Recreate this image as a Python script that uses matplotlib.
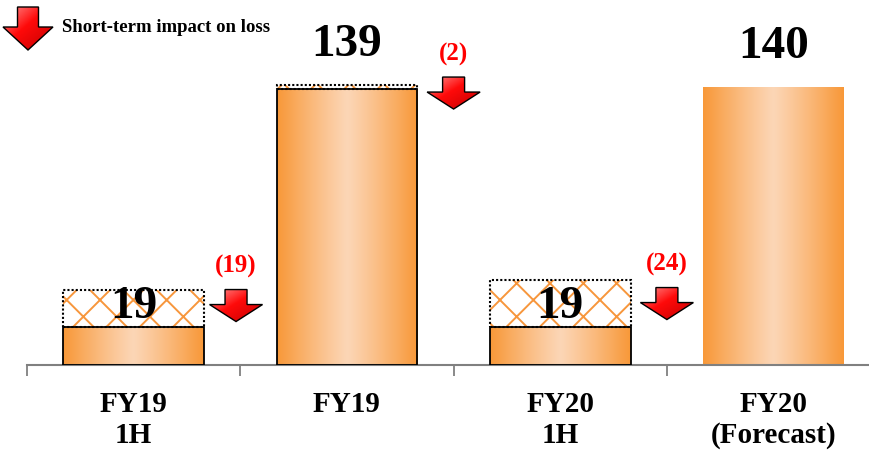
import numpy as np
import matplotlib
matplotlib.use("Agg")
import matplotlib.pyplot as plt
import matplotlib.transforms as mtransforms
from matplotlib.patches import Polygon, Rectangle

# underlying result and short-term impact on loss (billion yen)
categories = ["FY19\n1H", "FY19", "FY20\n1H", "FY20\n(Forecast)"]
base_values = [19, 139, 19, 140]
impact_values = [19, 2, 24, 0]
impact_labels = ["(19)", "(2)", "(24)", ""]
value_labels = ["19", "139", "19", "140"]

plt.rcParams["font.family"] = ["Liberation Serif", "DejaVu Serif"]
plt.rcParams["font.weight"] = "bold"
plt.rcParams["hatch.linewidth"] = 1.4

fig = plt.figure(figsize=(8.7, 4.53), dpi=100)
ax = fig.add_axes([27 / 870, 88 / 453, 843 / 870, 365 / 453])
ax.set_xlim(-0.5, -0.5 + 843 / 213.3)
ax.set_ylim(0, 183.8)
ax.set_autoscale_on(False)

bar_w = 0.66
edge_c = np.array([248, 152, 56]) / 255
mid_c = np.array([252, 214, 182]) / 255
t = np.abs(np.linspace(-1, 1, 200)) ** 1.1
grad = (mid_c[None, :] + (edge_c - mid_c)[None, :] * t[:, None])[None, :, :]

for i, (b, imp) in enumerate(zip(base_values, impact_values)):
    x0 = i - bar_w / 2
    # orange gradient body
    rect = Rectangle((x0, 0), bar_w, b, facecolor="none", edgecolor="none")
    ax.add_patch(rect)
    im = ax.imshow(grad, extent=(x0, x0 + bar_w, 0, b), aspect="auto",
                   interpolation="bilinear", zorder=2)
    im.set_clip_path(rect)
    if i < 3:
        ax.add_patch(Rectangle((x0, 0), bar_w, b, facecolor="none",
                               edgecolor="black", linewidth=1.3, zorder=3))
    # hatched short-term impact on top
    if imp > 0:
        ax.add_patch(Rectangle((x0, b), bar_w, imp, facecolor="white",
                               edgecolor="#F7963C", hatch="x", linewidth=0,
                               zorder=2))
        ax.add_patch(Rectangle((x0, b), bar_w, imp, facecolor="none",
                               edgecolor="black", linestyle=(0, (1, 1)),
                               linewidth=1.5, zorder=3))

# value labels
for i, (b, imp, lab) in enumerate(zip(base_values, impact_values, value_labels)):
    if b > 50:
        ax.annotate(lab, (i, b + imp), xytext=(0, 21), textcoords="offset points",
                    ha="center", va="baseline", fontsize=34, fontweight="bold")
    else:
        ax.annotate(lab, (i, b), xytext=(0, 7), textcoords="offset points",
                    ha="center", va="baseline", fontsize=34, fontweight="bold",
                    zorder=5)


def red_arrow(base_tr, w, h, shaft_w, shaft_h):
    # downward block arrow in pixel units, origin at top centre
    verts = np.array([
        [-shaft_w / 2, 0], [shaft_w / 2, 0], [shaft_w / 2, -shaft_h],
        [w / 2, -shaft_h], [0, -h], [-w / 2, -shaft_h], [-shaft_w / 2, -shaft_h],
    ])
    poly = Polygon(verts, closed=True, transform=base_tr, facecolor="none",
                   edgecolor="black", linewidth=1.0, zorder=6, clip_on=False)
    ax.add_patch(poly)
    g = np.linspace(0, 1, 64)
    gx, gy = np.meshgrid(g, g)
    s = np.clip((gx + gy) / 2, 0, 1)
    stops = [0.0, 0.45, 1.0]
    cols = np.array([[255, 150, 150], [255, 10, 10], [195, 0, 0]]) / 255
    img = np.stack([np.interp(s, stops, cols[:, k]) for k in range(3)], axis=-1)
    im = ax.imshow(img, extent=(-w / 2, w / 2, -h, 0), origin="upper",
                   transform=base_tr, aspect="auto", interpolation="bilinear",
                   zorder=5)
    im.set_clip_box(fig.bbox)
    im.set_clip_path(poly)


# loss arrows between bars
arrow_top = [38, 145, 39]
arrow_x = [0.48, 1.5, 2.5]
for i in range(3):
    tr = mtransforms.ScaledTranslation(arrow_x[i], arrow_top[i], ax.transData)
    red_arrow(mtransforms.Affine2D() + tr, 53, 32, 22, 15)
    ax.annotate(impact_labels[i], (arrow_x[i], arrow_top[i]), xytext=(0, 12),
                textcoords="offset points", ha="center", va="baseline",
                fontsize=18, fontweight="bold", color="#FF0000")

# legend arrow in the top-left corner
leg_tr = mtransforms.ScaledTranslation(28, 446, mtransforms.IdentityTransform())
red_arrow(mtransforms.Affine2D() + leg_tr, 50, 43, 21, 20)
fig.text(62 / 870, 1 - 32 / 453, "Short-term impact on loss", fontsize=13.5,
         fontweight="bold", va="baseline", ha="left")

# axis
for s in ["top", "right", "left"]:
    ax.spines[s].set_visible(False)
ax.spines["bottom"].set_color("#808080")
ax.spines["bottom"].set_linewidth(1.5)
ax.set_yticks([])
ax.set_xticks(range(4))
ax.set_xticklabels(categories, fontsize=21, fontweight="bold", linespacing=1.15)
ax.tick_params(axis="x", which="major", length=0, pad=19)
ax.set_xticks([-0.5, 0.5, 1.5, 2.5], minor=True)
ax.tick_params(axis="x", which="minor", length=8, width=1.3, color="#808080")

fig.savefig("out.png", dpi=100)
